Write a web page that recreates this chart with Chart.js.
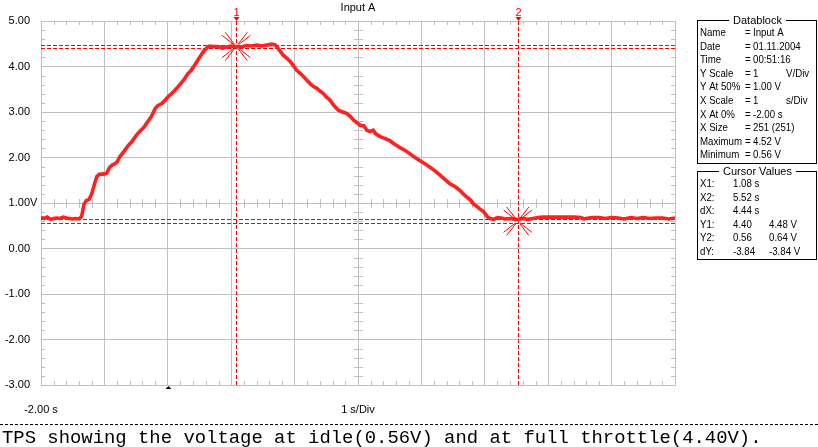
<!DOCTYPE html>
<html><head><meta charset="utf-8">
<script src="https://cdn.jsdelivr.net/npm/chart.js@4.4.1/dist/chart.umd.min.js"></script>
<style>html,body{margin:0;padding:0;background:#fff;}canvas{display:block;}</style>
</head><body>
<canvas id="c" width="818" height="447"></canvas>
<script>
// ---- data ----
const times = [-2.00,-1.95,-1.90,-1.85,-1.80,-1.75,-1.70,-1.65,-1.60,-1.55,-1.50,-1.45,-1.40,-1.36,-1.32,-1.28,-1.24,-1.20,-1.16,-1.12,-1.08,-1.00,-0.96,-0.92,-0.88,-0.84,-0.80,-0.76,-0.70,-0.62,-0.56,-0.50,-0.44,-0.38,-0.32,-0.26,-0.20,-0.16,-0.10,-0.04,0.00,0.08,0.14,0.20,0.26,0.32,0.36,0.42,0.46,0.52,0.56,0.62,0.66,0.72,0.80,0.86,0.92,1.00,1.08,1.16,1.24,1.32,1.40,1.48,1.56,1.64,1.70,1.76,1.82,1.88,1.93,1.98,2.03,2.08,2.14,2.20,2.24,2.30,2.35,2.40,2.45,2.50,2.56,2.62,2.69,2.76,2.82,2.88,2.93,2.98,3.03,3.09,3.14,3.19,3.24,3.28,3.35,3.42,3.50,3.58,3.66,3.74,3.82,3.90,3.98,4.06,4.14,4.22,4.29,4.37,4.45,4.53,4.61,4.69,4.77,4.82,4.87,4.92,4.98,5.04,5.08,5.14,5.20,5.26,5.32,5.40,5.48,5.52,5.60,5.68,5.76,5.84,5.92,6.00,6.20,6.40,6.52,6.56,6.64,6.72,6.80,6.90,7.00,7.10,7.20,7.30,7.40,7.50,7.60,7.70,7.80,7.90,8.00];
const volts = [0.68,0.66,0.69,0.64,0.66,0.67,0.66,0.69,0.67,0.66,0.65,0.66,0.65,0.70,0.98,1.06,1.08,1.20,1.40,1.58,1.63,1.64,1.66,1.78,1.83,1.86,1.90,2.01,2.12,2.27,2.36,2.48,2.58,2.66,2.78,2.90,3.07,3.14,3.18,3.26,3.33,3.43,3.52,3.62,3.72,3.85,3.90,4.02,4.11,4.24,4.32,4.42,4.45,4.44,4.44,4.40,4.43,4.45,4.44,4.43,4.46,4.45,4.47,4.45,4.47,4.49,4.47,4.36,4.25,4.18,4.11,4.02,3.92,3.86,3.78,3.69,3.63,3.56,3.52,3.46,3.41,3.33,3.26,3.14,3.04,3.00,2.97,2.90,2.82,2.77,2.71,2.70,2.60,2.57,2.60,2.52,2.46,2.42,2.37,2.29,2.22,2.16,2.08,2.00,1.93,1.86,1.78,1.70,1.62,1.52,1.42,1.36,1.27,1.16,1.07,0.98,0.93,0.87,0.81,0.70,0.66,0.64,0.68,0.67,0.65,0.66,0.64,0.64,0.66,0.64,0.66,0.68,0.69,0.69,0.69,0.69,0.68,0.65,0.67,0.68,0.68,0.66,0.68,0.67,0.65,0.68,0.66,0.68,0.66,0.67,0.67,0.65,0.67];
const yTickValues = [5,4,3,2,1,0,-1,-2,-3];
const yTickLabels = ['5.00','4.00','3.00','2.00','1.00','0.00','-1.00','-2.00','-3.00'];
const xAxisLabels = ['-2.00 s','1 s/Div'];
const xAxisLabelPos = [-2,3];
const cursorX = [1.08, 5.52];
const cursorNames = ['1','2'];
const cursorYLines = [4.40, 4.48, 0.56, 0.64];
const cursorStarY = [4.44, 0.60];
const triggerX = 0;
const titleText = 'Input A';
const dbLabels = ['Name','Date','Time','Y Scale','Y At 50%','X Scale','X At 0%','X Size','Maximum','Minimum'];
const dbValues = ['Input A','01.11.2004','00:51:16','1','1.00 V','1','-2.00 s','251 (251)','4.52 V','0.56 V'];
const dbUnits = ['','','','V/Div','','s/Div','','','',''];
const cvLabels = ['X1:','X2:','dX:','Y1:','Y2:','dY:'];
const cvCol1 = ['1.08 s','5.52 s','4.44 s','4.40','0.56','-3.84'];
const cvCol2 = ['','','','4.48 V','0.64 V','-3.84 V'];
const caption = 'TPS showing the voltage at idle(0.56V) and at full throttle(4.40V).';

const pts = times.map((t,i)=>({x:t,y:volts[i]}));
const GRID = '#c0c0c0';
const FONT = '11px "Liberation Sans", Arial, sans-serif';

const overlay = {
  id:'overlay',
  beforeDatasetsDraw(chart){
    const c = chart.ctx, xs = chart.scales.x, ys = chart.scales.y, a = chart.chartArea;
    c.save();
    c.strokeStyle = GRID; c.lineWidth = 1;
    c.beginPath();
    for (let i=0;i<=50;i++){
      if (i%5===0) continue;
      const x = Math.round(xs.getPixelForValue(-2+i*0.2))+0.5;
      c.moveTo(x,a.top); c.lineTo(x,a.top+4);
      c.moveTo(x,a.bottom); c.lineTo(x,a.bottom-4);
      const yc = Math.round(ys.getPixelForValue(1));
      c.moveTo(x,yc-4); c.lineTo(x,yc+5);
    }
    for (let i=0;i<=40;i++){
      if (i%5===0) continue;
      const y = Math.round(ys.getPixelForValue(-3+i*0.2))+0.5;
      c.moveTo(a.left,y); c.lineTo(a.left+4,y);
      c.moveTo(a.right,y); c.lineTo(a.right-4,y);
      const xc = Math.round(xs.getPixelForValue(3));
      c.moveTo(xc-4,y); c.lineTo(xc+5,y);
    }
    c.stroke();
    c.strokeStyle = '#ff0000'; c.setLineDash([4,2]);
    c.beginPath();
    cursorYLines.forEach(v=>{
      const y = Math.round(ys.getPixelForValue(v))+0.5;
      c.moveTo(a.left,y); c.lineTo(a.right,y);
    });
    cursorX.forEach(v=>{
      const x = Math.round(xs.getPixelForValue(v))+0.5;
      c.moveTo(x,a.top); c.lineTo(x,a.bottom);
    });
    c.stroke();
    c.restore();
  },
  afterDatasetsDraw(chart){
    const c = chart.ctx, xs = chart.scales.x, ys = chart.scales.y, a = chart.chartArea;
    c.save();
    c.strokeStyle = '#ff0000'; c.lineWidth = 1;
    cursorX.forEach((v,i)=>{
      const cx = xs.getPixelForValue(v), cy = ys.getPixelForValue(cursorStarY[i]);
      c.beginPath();
      [45,135,225,315].forEach(base=>{
        [-7,7].forEach(d=>{
          const ang = (base+d)*Math.PI/180;
          c.moveTo(cx+3*Math.cos(ang), cy+3*Math.sin(ang));
          c.lineTo(cx+18*Math.cos(ang), cy+18*Math.sin(ang));
        });
      });
      c.stroke();
    });
    c.fillStyle = '#ff0000'; c.font = FONT; c.textAlign='center'; c.textBaseline='middle';
    cursorX.forEach((v,i)=>{
      const x = Math.round(xs.getPixelForValue(v))+0.5;
      c.fillText(cursorNames[i], x, 13);
      c.beginPath(); c.moveTo(x-3,17); c.lineTo(x+3,17); c.lineTo(x,21); c.closePath(); c.fill();
    });
    c.fillStyle = '#000';
    c.fillText(titleText, xs.getPixelForValue(3), 8);
    c.textAlign='right';
    yTickValues.forEach((v,i)=>{
      const y = ys.getPixelForValue(v);
      c.fillText(yTickLabels[i], 30, y);
      if (v===1){ c.textAlign='left'; c.fillText('V',30,y); c.textAlign='right'; }
    });
    c.textAlign='center';
    xAxisLabels.forEach((s,i)=>{
      c.fillText(s, xs.getPixelForValue(xAxisLabelPos[i]), 410);
    });
    const tx = Math.round(xs.getPixelForValue(triggerX))+0.5;
    c.beginPath(); c.moveTo(tx,a.bottom+1); c.lineTo(tx-3,a.bottom+4); c.lineTo(tx+3,a.bottom+4); c.closePath(); c.fill();
    c.strokeStyle='#000'; c.setLineDash([3,2]);
    c.beginPath(); c.moveTo(0,424.5); c.lineTo(818,424.5); c.stroke();
    c.setLineDash([]);
    c.textAlign='left'; c.textBaseline='alphabetic';
    c.font = '18.9px "Liberation Mono", "Courier New", monospace';
    c.fillText(caption, 2, 443);
    c.font = FONT; c.textBaseline='middle';
    // narrow text helper (panel font is narrower than Arial)
    function nt(s,x,y){
      c.save(); c.translate(x,y); c.scale(0.88,1); c.fillText(s,0,0); c.restore();
    }
    function box(x0,y0,x1,y1,title){
      c.strokeStyle='#000'; c.lineWidth=1;
      c.strokeRect(x0+0.5,y0+0.5,x1-x0,y1-y0);
      c.textAlign='center';
      const w = c.measureText(title).width+8;
      const mx = (x0+x1)/2+1;
      c.fillStyle='#fff'; c.fillRect(mx-w/2,y0-6,w,12);
      c.fillStyle='#000'; c.fillText(title,mx,y0+0.5);
      c.textAlign='left';
    }
    box(697,20,816,163,'Datablock');
    dbLabels.forEach((s,i)=>{
      const y = 33+i*13.6;
      nt(s,700,y);
      nt('=',745,y);
      nt(dbValues[i],753,y);
      if (dbUnits[i]) nt(dbUnits[i],786,y);
    });
    box(697,171,816,259,'Cursor Values');
    cvLabels.forEach((s,i)=>{
      const y = 184+i*13.5;
      nt(s,700,y);
      nt(cvCol1[i],733,y);
      if (cvCol2[i]) nt(cvCol2[i],769,y);
    });
    c.restore();
  }
};

new Chart(document.getElementById('c'), {
  type:'line',
  data:{datasets:[
    {data:pts, borderColor:'#ff2020', borderWidth:3.6, pointRadius:0, tension:0},
    {data:pts, borderColor:'#f48a8a', borderWidth:1.4, pointRadius:0, tension:0}
  ]},
  options:{
    responsive:false, animation:false, devicePixelRatio:1,
    layout:{padding:{left:41,top:21,right:143,bottom:62}},
    plugins:{legend:{display:false}, tooltip:{enabled:false}, title:{display:false}},
    scales:{
      x:{type:'linear', min:-2, max:8, ticks:{display:false, stepSize:1}, grid:{color:GRID, drawTicks:false, lineWidth:1}, border:{display:true, color:GRID}},
      y:{type:'linear', min:-3, max:5, ticks:{display:false, stepSize:1}, grid:{color:GRID, drawTicks:false, lineWidth:1}, border:{display:true, color:GRID}}
    }
  },
  plugins:[overlay]
});
</script>
</body></html>
